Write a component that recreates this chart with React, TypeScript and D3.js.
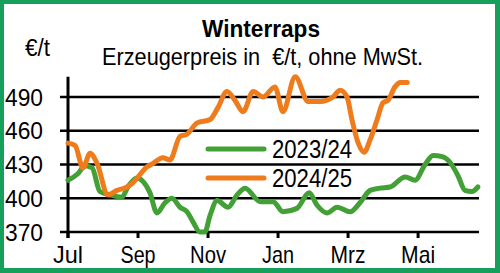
import React from "react";
import * as d3 from "d3";

// months since 1 July (Jul = 0)
const green2324Months = [0, 0.29, 0.49, 0.69, 0.91, 1.2, 1.54, 1.71, 1.97, 2.14, 2.34, 2.54, 2.77, 2.97, 3.2, 3.4, 3.57, 3.77, 3.91, 4.06, 4.26, 4.57, 4.83, 5.06, 5.49, 5.86, 6.14, 6.54, 6.89, 7.11, 7.4, 7.69, 8.06, 8.34, 8.63, 8.91, 9.2, 9.63, 9.91, 10.2, 10.43, 10.69, 10.91, 11.14, 11.34, 11.54, 11.71];
const green2324Values = [416, 422, 429, 427, 406, 403, 401, 410, 418, 415, 405, 387, 396, 400, 392, 388, 379, 370, 370, 385, 398, 392, 403, 409, 397, 397, 388, 391, 405, 394, 387, 392, 388, 396, 407, 409, 410, 419, 416, 430, 438, 437, 432, 420, 407, 406, 410];

const orange2425Months = [0, 0.2, 0.43, 0.63, 0.83, 1.14, 1.4, 1.69, 1.86, 2.26, 2.43, 2.71, 2.91, 3.2, 3.4, 3.69, 4.06, 4.29, 4.54, 4.77, 5.0, 5.29, 5.57, 5.91, 6.14, 6.49, 6.86, 7.2, 7.57, 7.77, 7.97, 8.11, 8.29, 8.46, 8.63, 8.83, 9.0, 9.14, 9.34, 9.49, 9.69];
const orange2425Values = [449, 447, 427, 440, 431, 403, 407, 410, 414, 428, 431, 436, 434, 455, 457, 467, 470, 481, 495, 487, 477, 495, 490, 499, 477, 508, 486, 486, 490, 496, 490, 470, 449, 441, 452, 470, 485, 487, 499, 503, 503];

const xTickMonths = [0, 2, 4, 6, 8, 10];
const xTickLabels = ["Jul", "Sep", "Nov", "Jan", "Mrz", "Mai"];
const xTickLabelWidths = [30, 35, 36, 32, 35, 34];
const yTicks = [370, 400, 430, 460, 490];
const seriesNames = ["2023/24", "2024/25"];

const GREEN = "#43a036";
const ORANGE = "#ee7b1c";
const FRAME = "#17a05c";
const FONT = "'Liberation Sans', Arial, sans-serif";

export default function App() {
  const W = 500, H = 273;
  const x = d3.scaleLinear().domain([0, 11.74]).range([68, 479]);
  const y = d3.scaleLinear().domain([370, 490]).range([232, 97]);
  const line = d3
    .line<[number, number]>()
    .x((d) => x(d[0]))
    .y((d) => y(d[1]))
    .curve(d3.curveMonotoneX);
  const g = green2324Months.map((m, i) => [m, green2324Values[i]] as [number, number]);
  const o = orange2425Months.map((m, i) => [m, orange2425Values[i]] as [number, number]);

  return (
    <svg width={W} height={H} style={{ position: "fixed", left: 0, top: 0 }} fontFamily={FONT}>
      <rect x={0} y={0} width={W} height={H} fill={FRAME} />
      <rect x={4} y={4} width={491} height={264} fill="#fff" />
      {/* grid + y ticks */}
      {yTicks.map((t) => (
        <g key={t}>
          <line x1={60} x2={479} y1={y(t)} y2={y(t)} stroke="#000" strokeWidth={2.5} />
          <text x={5} y={y(t)} dy="0.36em" fontSize={24} fill="#000" textLength={38} lengthAdjust="spacingAndGlyphs">
            {t}
          </text>
        </g>
      ))}
      {/* y axis */}
      <line x1={x(0)} x2={x(0)} y1={y(508)} y2={y(370) + 6} stroke="#000" strokeWidth={3} />
      {/* x ticks */}
      {xTickMonths.map((m, i) => (
        <g key={m}>
          <line x1={x(m)} x2={x(m)} y1={y(370)} y2={y(370) + 6} stroke="#000" strokeWidth={3} />
          <text
            x={x(m) - xTickLabelWidths[i] / 2}
            y={263}
            fontSize={24}
            fill="#000"
            textLength={xTickLabelWidths[i]}
            lengthAdjust="spacingAndGlyphs"
          >
            {xTickLabels[i]}
          </text>
        </g>
      ))}
      {/* series */}
      <path d={line(g) ?? ""} fill="none" stroke={GREEN} strokeWidth={5} strokeLinejoin="round" strokeLinecap="round" />
      <path d={line(o) ?? ""} fill="none" stroke={ORANGE} strokeWidth={5} strokeLinejoin="round" strokeLinecap="round" />
      {/* legend */}
      <line x1={208} x2={264} y1={149} y2={149} stroke={GREEN} strokeWidth={5} strokeLinecap="round" />
      <text x={272} y={158} fontSize={26} fill="#000" textLength={80} lengthAdjust="spacingAndGlyphs">{seriesNames[0]}</text>
      <line x1={208} x2={264} y1={178} y2={178} stroke={ORANGE} strokeWidth={5} strokeLinecap="round" />
      <text x={272} y={187} fontSize={26} fill="#000" textLength={80} lengthAdjust="spacingAndGlyphs">{seriesNames[1]}</text>
      {/* titles */}
      <text x={202} y={37} fontSize={23} fontWeight="bold" fill="#000" textLength={118} lengthAdjust="spacingAndGlyphs">
        Winterraps
      </text>
      <text x={102} y={65} fontSize={24} fill="#000" style={{ whiteSpace: "pre" }} textLength={321} lengthAdjust="spacingAndGlyphs">
        {"Erzeugerpreis in  €/t, ohne MwSt."}
      </text>
      <text x={25} y={56} fontSize={23} fill="#000" textLength={25} lengthAdjust="spacingAndGlyphs">€/t</text>
    </svg>
  );
}
